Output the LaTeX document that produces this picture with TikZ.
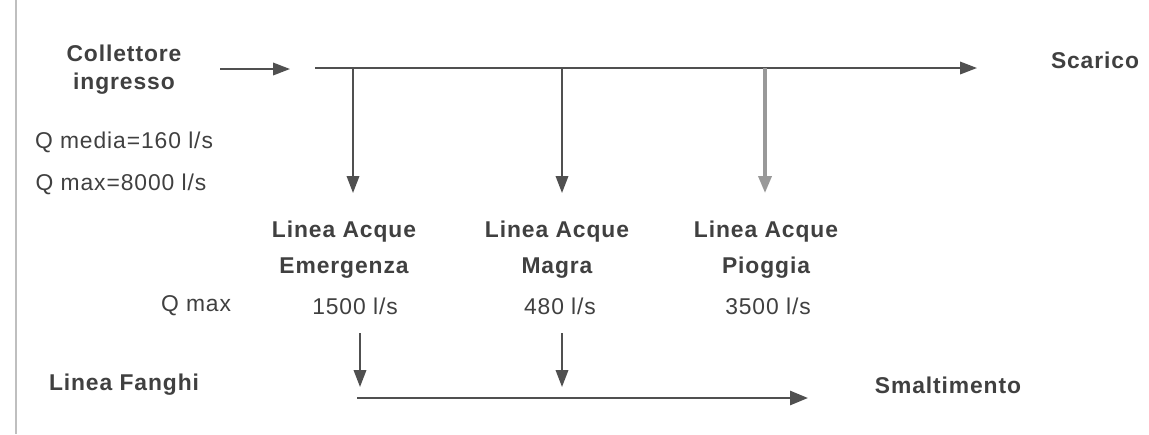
\documentclass[tikz,border=0pt]{standalone}
\usepackage{fontspec}
\setmainfont{Liberation Sans}
\newfontfamily\spaced[LetterSpace=4]{Liberation Sans}
\usetikzlibrary{arrows.meta}
\definecolor{txt}{HTML}{404040}
\definecolor{ln}{HTML}{505050}
\tikzset{
  lbl/.style={font=\spaced\bfseries\fontsize{13}{15}\selectfont, text=txt, inner sep=0pt, align=center},
  val/.style={font=\spaced\fontsize{13}{15}\selectfont, text=txt, inner sep=0pt},
  flow/.style={draw=ln, line width=1.1pt, -{Triangle[length=0.34cm,width=0.25cm]}},
  flowthick/.style={draw=ln, line width=1.6pt, -{Triangle[length=0.36cm,width=0.28cm]}},
  flowlight/.style={draw=black!40, line width=2pt, -{Triangle[length=0.34cm,width=0.26cm]}}
}
\begin{document}
\begin{tikzpicture}[x=0.02cm,y=-0.02cm]
\useasboundingbox (0,0) rectangle (1149,434);
\fill[white] (0,0) rectangle (1149,434);
\draw[black!25, line width=1pt] (16,0) -- (16,434);
% labels
\node[lbl] (coll) at (124,70) {Collettore\\[1pt]ingresso};
\node[lbl] (scar) at (1095,60) {Scarico};
\node[val] (qmed) at (124,142) {Q media=160 l/s};
\node[val] (qmax) at (121,184) {Q max=8000 l/s};
\node[lbl] (le1) at (344,232) {Linea Acque};
\node[lbl] (le2) at (344,268) {Emergenza};
\node[lbl] (lm1) at (557,232) {Linea Acque};
\node[lbl] (lm2) at (557,268) {Magra};
\node[lbl] (lp1) at (766,232) {Linea Acque};
\node[lbl] (lp2) at (766,268) {Pioggia};
\node[val] (qm) at (196,306) {Q max};
\node[val] (v1) at (355,306) {1500 l/s};
\node[val] (v2) at (560,306) {480 l/s};
\node[val] (v3) at (768,306) {3500 l/s};
\node[lbl] (fan) at (124,385) {Linea Fanghi};
\node[lbl] (sma) at (948,385) {Smaltimento};
% coordinates
\coordinate (in0) at (220,69);
\coordinate (in1) at (290,69);
\coordinate (m0) at (315,68);
\coordinate (m1) at (977,68);
\coordinate (b1) at (353,68);
\coordinate (b2) at (562,68);
\coordinate (b3) at (765,68);
\coordinate (e1) at (353,193);
\coordinate (e2) at (562,193);
\coordinate (e3) at (765,193);
\coordinate (d1) at (360,333);
\coordinate (d2) at (562,333);
\coordinate (f1) at (360,387);
\coordinate (f2) at (562,387);
\coordinate (s0) at (357,398);
\coordinate (s1) at (808,398);
% connectors
\draw[flow] (in0) -- (in1);
\draw[flow] (m0) -- (m1);
\draw[flow] (b1) -- (e1);
\draw[flow] (b2) -- (e2);
\draw[flowlight] (b3) -- (e3);
\draw[flow] (d1) -- (f1);
\draw[flow] (d2) -- (f2);
\draw[flowthick] (s0) -- (s1);
\end{tikzpicture}
\end{document}
